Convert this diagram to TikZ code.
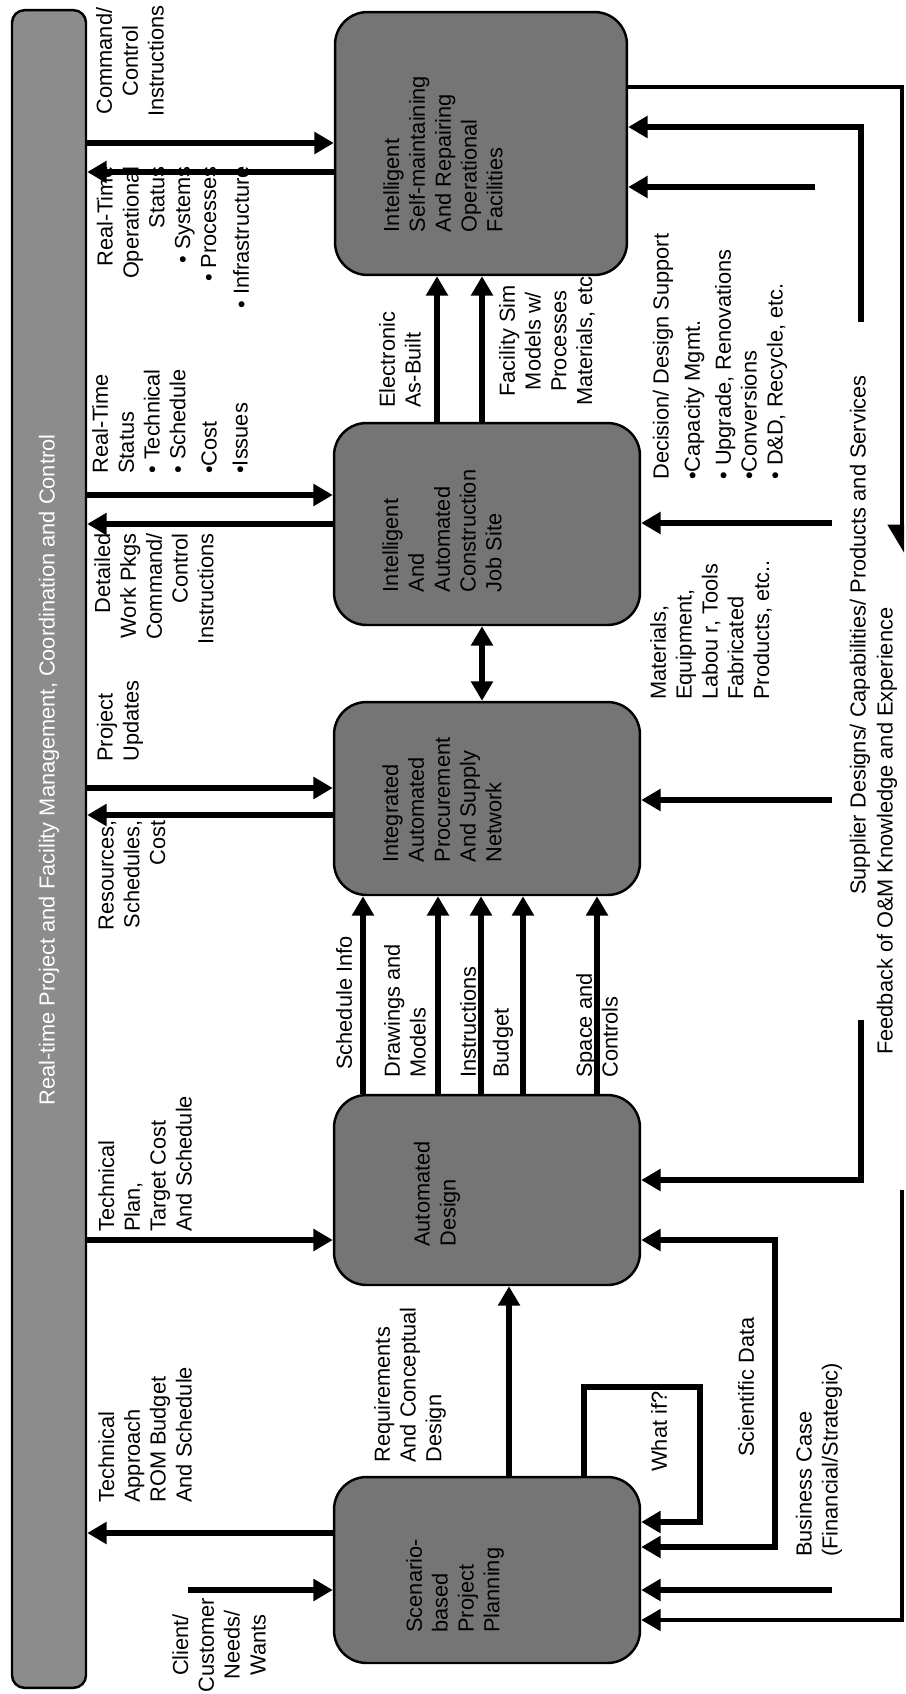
\documentclass[tikz,border=0pt]{standalone}
\usepackage{fontspec}
\setmainfont{Liberation Sans}
\usetikzlibrary{arrows.meta,calc}

\tikzset{
  box/.style={draw, line width=1.4pt, fill=black!54, rounded corners=0.65cm, inner sep=0pt},
  lbl/.style={rotate=90, inner sep=0pt, font=\fontsize{12.4}{14.7}\selectfont},
  boxtxt/.style={lbl, align=left},
  arr/.style={line width=3pt, ->},
  darr/.style={line width=3pt, <->},
  fb/.style={line width=2.4pt},
}

\begin{document}
\begin{tikzpicture}[x=0.02cm, y=-0.02cm, line join=miter,
    >={Triangle[length=11pt, width=12pt]}]
\useasboundingbox (0,0) rectangle (906,1694);

% management bar
\node[box, fill=black!45, rounded corners=0.25cm, minimum width=1.48cm, minimum height=33.56cm] (bar) at (49,849) {};
\node[lbl, text=white] (bartxt) at (49,770) {Real-time Project and Facility Management, Coordination and Control};

% the five blocks
\foreach \n/\x/\y/\w/\h in {fac/481/143.5/5.84/5.26, site/487/524/6.12/4.04,
    proc/487/798.5/6.12/3.86, dsgn/487/1190/6.12/3.8, plan/487/1570/6.12/3.72}
  \node[box, minimum width=\w cm, minimum height=\h cm] (\n) at (\x,\y) {};

\node[boxtxt] (factxt) at (443,154) {Intelligent\\Self-maintaining\\And Repairing\\Operational\\Facilities};
\node[boxtxt] (sitetxt) at (442,531) {Intelligent\\And\\Automated\\Construction\\Job Site};
\node[boxtxt] (proctxt) at (442,800) {Integrated\\Automated\\Procurement\\And Supply\\Network};
\node[boxtxt] (dsgntxt) at (437,1194) {Automated\\Design};
\node[boxtxt] (plantxt) at (455,1586) {Scenario-\\based\\Project\\Planning};

% labels
\node[lbl, align=center] (cmdtxt) at (130,61) {Command/\\Control\\Instructions};
\node[lbl, align=right, anchor=east] (optxt) at (173,166) {Real-Time\\Operational\\Status\\• Systems\\• Processes\\[4pt]• Infrastructure};
\node[lbl, align=left, anchor=west] (sttxt) at (170,474) {Real-Time\\Status\\• Technical\\• Schedule\\[3pt]•Cost\\[3pt]•Issues};
\node[lbl, align=right, anchor=east] (wptxt) at (154,533) {Detailed\\Work Pkgs\\Command/\\Control\\Instructions};
\node[lbl, align=left, anchor=west] (updtxt) at (120,762) {Project\\Updates};
\node[lbl, align=right, anchor=east] (restxt) at (132,820) {Resources,\\Schedules,\\Cost};
\node[lbl, align=left, anchor=west] (tptxt) at (145,1232) {Technical\\Plan,\\Target Cost\\And Schedule};
\node[lbl, align=left, anchor=west] (tatxt) at (145,1503) {Technical\\Approach\\ROM Budget\\And Schedule};
\node[lbl, align=center] (clitxt) at (219,1645) {Client/\\Customer\\Needs/\\Wants};
\node[lbl, align=left, anchor=west] (ebtxt) at (400,408) {Electronic\\As-Built};
\node[lbl, align=center] (simtxt) at (547,341) {Facility Sim\\Models w/\\Processes\\Materials, etc};
\node[lbl, align=left, anchor=west] (dectxt) at (720,480) {Decision/ Design Support\\[3pt]•Capacity Mgmt.\\[3pt]• Upgrade, Renovations\\•Conversions\\• D\&D, Recycle, etc.};
\node[lbl, align=left, anchor=west] (mattxt) at (711,700) {Materials,\\Equipment,\\Labou r, Tools\\Fabricated\\Products, etc..};
\node[lbl, anchor=west] (suptxt) at (860,895) {Supplier Designs/ Capabilities/ Products and Services};
\node[lbl, anchor=west] (fbtxt) at (887,1055) {Feedback of O\&M Knowledge and Experience};
\node[lbl, anchor=west] (schtxt) at (344,1070) {Schedule Info};
\node[lbl, align=left, anchor=west] (drwtxt) at (405,1078) {Drawings and\\Models};
\node[lbl, anchor=west] (insttxt) at (468,1078) {Instructions};
\node[lbl, anchor=west] (budtxt) at (503,1078) {Budget};
\node[lbl, align=left, anchor=west] (spctxt) at (597,1078) {Space and\\Controls};
\node[lbl, align=left, anchor=west] (reqtxt) at (410,1463) {Requirements\\And Conceptual\\Design};
\node[lbl, anchor=west] (wiftxt) at (659,1472) {What if?};
\node[lbl, anchor=west] (scitxt) at (746,1457) {Scientific Data};
\node[lbl, align=left, anchor=west] (bustxt) at (819,1557) {Business Case\\(Financial/Strategic)};

% levels and loose ends
\foreach \n/\y in {yA1/143, yA2/172, yA3/127, yA4/187, yA5/87, yB1/495, yB2/524,
    yC1/788, yC2/815, yC3/800, yD1/1240, yD2/1180, yE1/1533, yE2/1590,
    yE3/1522, yE4/1547, yE5/1620}
  \coordinate (\n) at (0,\y);
\coordinate (cli) at (188,1590);
\coordinate (decA) at (861,322);
\coordinate (supA) at (815,187);
\coordinate (decB) at (832,523);
\coordinate (supC) at (832,800);
\coordinate (decD) at (861,1020);
\coordinate (sci) at (775,1547);
\coordinate (wif) at (700,1387);
\coordinate (bus) at (832,1590);
\coordinate (fbT) at (902,553);
\coordinate (fbB) at (902,1190);

% bar <-> blocks
\draw[arr] (bar.east |- yA1) -- (fac.west |- yA1);
\draw[arr] (fac.west |- yA2) -- (bar.east |- yA2);
\draw[arr] (bar.east |- yB1) -- (site.west |- yB1);
\draw[arr] (site.west |- yB2) -- (bar.east |- yB2);
\draw[arr] (bar.east |- yC1) -- (proc.west |- yC1);
\draw[arr] (proc.west |- yC2) -- (bar.east |- yC2);
\draw[arr] (bar.east |- yD1) -- (dsgn.west |- yD1);
\draw[arr] (plan.west |- yE1) -- (bar.east |- yE1);
\draw[arr] (cli) -- (plan.west |- cli);

% between blocks
\draw[arr] (site.north -| 437,0) -- (fac.south -| 437,0);
\draw[arr] (site.north -| 482,0) -- (fac.south -| 482,0);
\draw[darr] (site.south -| 482,0) -- (proc.north -| 482,0);
\foreach \x in {363,438,481,523,597}
  \draw[arr] (dsgn.north -| \x,0) -- (proc.south -| \x,0);
\draw[arr] (plan.north -| 509,0) -- (dsgn.south -| 509,0);
\draw[arr] (plan.north -| 584,0) |- (wif) |- (plan.east |- yE3);

% right side inputs
\draw[arr] (decA) |- (fac.east |- yA3);
\draw[arr] (supA) -- (fac.east |- supA);
\draw[arr] (decB) -- (site.east |- decB);
\draw[arr] (supC) -- (proc.east |- supC);
\draw[arr] (decD) |- (dsgn.east |- yD2);
\draw[darr] (dsgn.east |- yD1) -| (sci) -- (plan.east |- yE4);
\draw[arr] (bus) -- (plan.east |- bus);

% feedback loop
\draw[fb, -{Triangle[harpoon, swap, length=14pt, width=16pt]}] (fac.east |- yA5) -| (fbT);
\draw[fb, ->] (fbB) |- (plan.east |- yE5);
\end{tikzpicture}
\end{document}
